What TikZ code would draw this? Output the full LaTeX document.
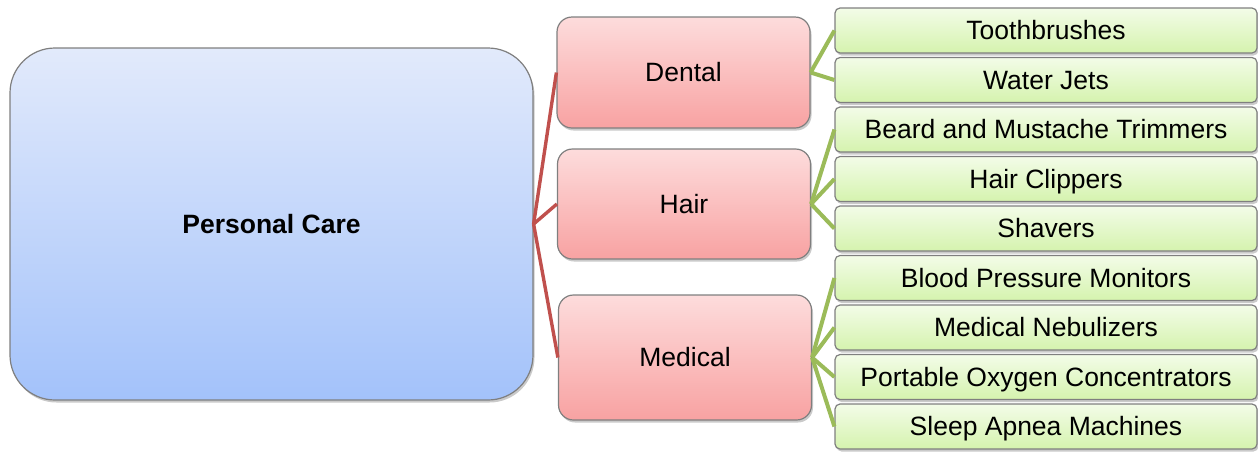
\documentclass[tikz,border=0pt]{standalone}
\usepackage{fontspec}
\setmainfont{Liberation Sans}
\usetikzlibrary{shadows}

\definecolor{rootTop}{HTML}{E2EAFB}
\definecolor{rootBot}{HTML}{A3C2FA}
\definecolor{catTop}{HTML}{FDDCDC}
\definecolor{catBot}{HTML}{F8A2A2}
\definecolor{leafTop}{HTML}{F3FCE8}
\definecolor{leafBot}{HTML}{D5F3AE}
\definecolor{edgeGray}{HTML}{7F7F7F}
\definecolor{redLink}{HTML}{C0504D}
\definecolor{greenLink}{HTML}{9BBB59}

\tikzset{
  boxbase/.style={draw=edgeGray, line width=1.2pt, align=center, inner sep=0pt,
    text height=19pt, text depth=0.5pt,
    font=\fontsize{26.5}{31}\selectfont,
    drop shadow={shadow xshift=1.5pt, shadow yshift=-2.5pt, opacity=0.35, fill=black!60}},
  rootbox/.style={boxbase, rounded corners=45pt, top color=rootTop, bottom color=rootBot,
    minimum width=523pt, minimum height=352pt, font=\fontsize{26.5}{31}\selectfont\bfseries},
  catbox/.style={boxbase, rounded corners=15pt, top color=catTop, bottom color=catBot,
    minimum width=253pt},
  leafbox/.style={boxbase, rounded corners=5pt, top color=leafTop, bottom color=leafBot,
    minimum width=422pt, minimum height=45pt},
  redline/.style={draw=redLink, line width=3.4pt},
  greenline/.style={draw=greenLink, line width=4pt},
}

\begin{document}
\begin{tikzpicture}[x=1pt, y=-1pt]
  \useasboundingbox (0,0) rectangle (1258,451);

  % root
  \node[rootbox] (root) at (271.5,224) {Personal Care};

  % categories
  \node[catbox, minimum height=111pt] (dental)  at (683.5,72.5) {Dental};
  \node[catbox, minimum height=110pt] (hair)    at (684,204)    {Hair};
  \node[catbox, minimum height=125pt] (medical) at (685,357.5)  {Medical};

  % products
  \node[leafbox] (l1) at (1046,30.5)  {Toothbrushes};
  \node[leafbox] (l2) at (1046,80)    {Water Jets};
  \node[leafbox] (l3) at (1046,129.5) {Beard and Mustache Trimmers};
  \node[leafbox] (l4) at (1046,179)   {Hair Clippers};
  \node[leafbox] (l5) at (1046,228.5) {Shavers};
  \node[leafbox] (l6) at (1046,278)   {Blood Pressure Monitors};
  \node[leafbox] (l7) at (1046,327.5) {Medical Nebulizers};
  \node[leafbox] (l8) at (1046,377)   {Portable Oxygen Concentrators};
  \node[leafbox] (l9) at (1046,426.5) {Sleep Apnea Machines};

  % root to categories
  \foreach \c in {dental, hair, medical}
    \draw[redline] (root.east) -- (\c.west);

  % categories to products
  \foreach \l in {l1, l2}
    \draw[greenline] (dental.east) -- (\l.west);
  \foreach \l in {l3, l4, l5}
    \draw[greenline] (hair.east) -- (\l.west);
  \foreach \l in {l6, l7, l8, l9}
    \draw[greenline] (medical.east) -- (\l.west);
\end{tikzpicture}
\end{document}
